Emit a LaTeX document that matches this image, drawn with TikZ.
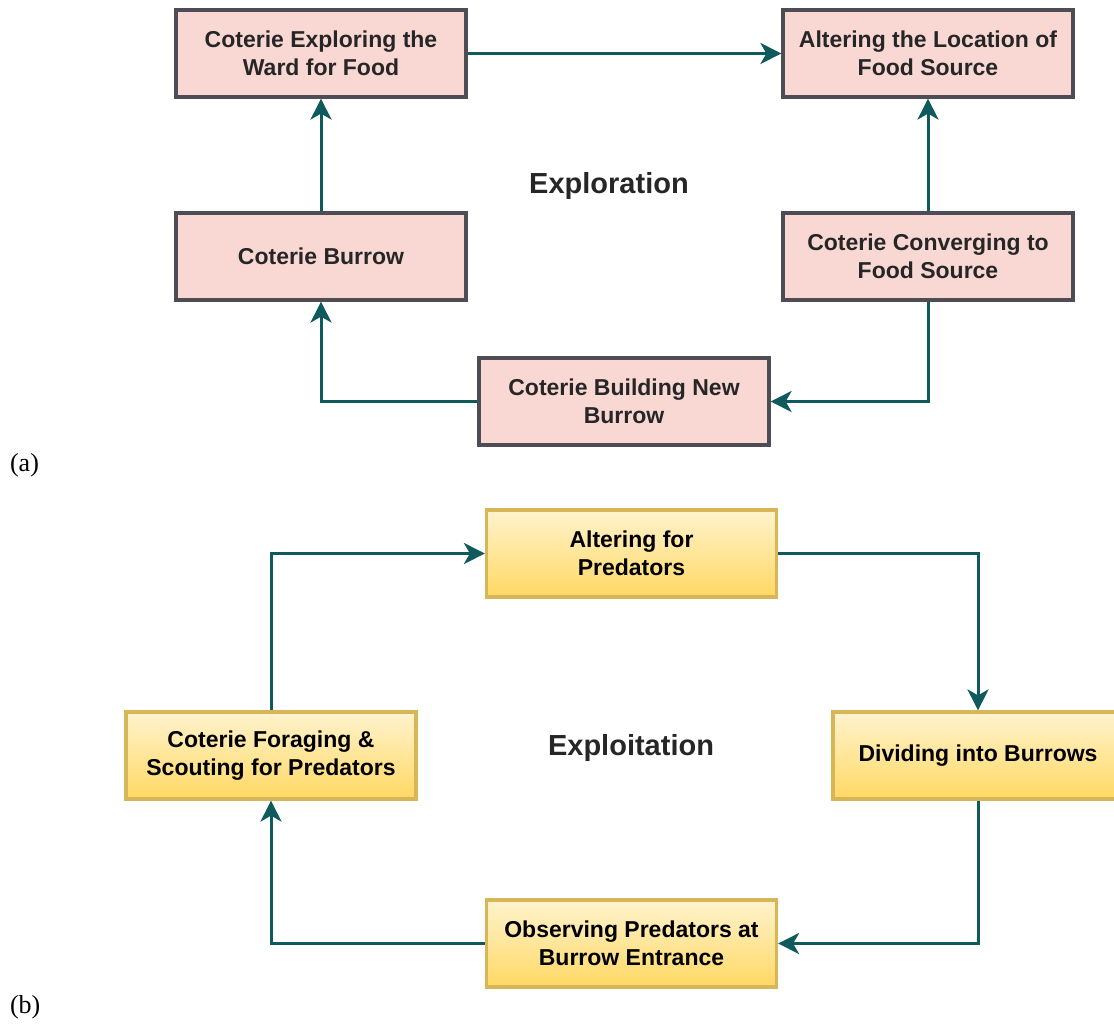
\documentclass[tikz,border=0pt]{standalone}
\usepackage{fontspec}
\setmainfont{Liberation Serif}
\newfontfamily\arialish{Liberation Sans}
\usetikzlibrary{arrows.meta}

\definecolor{pinkfill}{HTML}{F9D8D4}
\definecolor{pinkline}{HTML}{4E4C55}
\definecolor{goldtop}{HTML}{FFF3CE}
\definecolor{goldbot}{HTML}{FFD863}
\definecolor{goldline}{HTML}{D7B658}
\definecolor{flowteal}{HTML}{0F5A5D}

\begin{document}
\begin{tikzpicture}[x=0.5pt,y=-0.5pt,
  box/.style={line width=1.6pt,minimum width=145pt,minimum height=43.5pt,
    inner sep=0pt,align=center,font=\arialish\bfseries\fontsize{11.5}{14}\selectfont},
  redbox/.style={box,draw=pinkline,fill=pinkfill,text=black!85},
  goldbox/.style={box,draw=goldline,top color=goldtop,bottom color=goldbot},
  flow/.style={draw=flowteal,line width=1.5pt,
    -{Stealth[length=10.5pt,width=10.5pt,inset=3pt]}},
  title/.style={font=\arialish\bfseries\fontsize{14.5}{17}\selectfont,text=black!85},
  tag/.style={font=\fontsize{13}{15}\selectfont,anchor=west}]

\useasboundingbox (0,0) rectangle (1114,1023);

% (a) exploration
\begin{scope}
\node[redbox] (ward) at (321,53.5) {Coterie Exploring the\\Ward for Food};
\node[redbox] (alter) at (928,53.5) {Altering the Location of\\Food Source};
\node[redbox] (burrow) at (321,256.5) {Coterie Burrow};
\node[redbox] (conv) at (928,256.5) {Coterie Converging to\\Food Source};
\node[redbox] (build) at (624,401.5) {Coterie Building New\\Burrow};
\node[title] (explor) at (609,186) {Exploration};
\node[tag] (taga) at (3,465) {(a)};

\draw[flow] (ward) -- (alter);
\draw[flow] (burrow) -- (ward);
\draw[flow] (conv) -- (alter);
\draw[flow] (conv) |- (build);
\draw[flow] (build) -| (burrow);
\end{scope}

% (b) exploitation
\begin{scope}
\node[goldbox] (pred) at (631.5,553.5) {Altering for\\Predators};
\node[goldbox] (forage) at (271,755.5) {Coterie Foraging \&\\Scouting for Predators};
\node[goldbox] (divide) at (978,755.5) {Dividing into Burrows};
\node[goldbox] (observe) at (631.5,943.5) {Observing Predators at\\Burrow Entrance};
\node[title] (exploit) at (631,748) {Exploitation};
\node[tag] (tagb) at (3,1007) {(b)};

\draw[flow] (forage) |- (pred);
\draw[flow] (pred) -| (divide);
\draw[flow] (divide) |- (observe);
\draw[flow] (observe) -| (forage);
\end{scope}

\end{tikzpicture}
\end{document}
